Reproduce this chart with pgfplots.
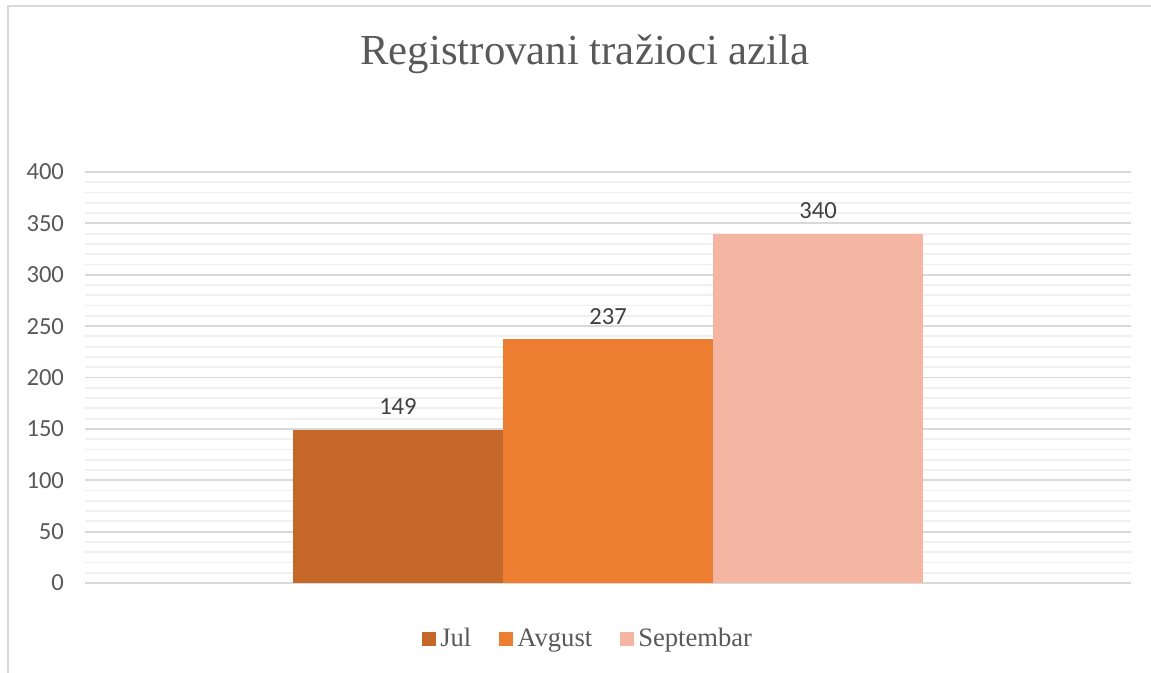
\documentclass[border=0pt]{standalone}
\usepackage{pgfplots}
\pgfplotsset{compat=1.18}
\usepackage{fontspec}
\setmainfont{Liberation Serif}
\newfontfamily\calib{Carlito}
\definecolor{cJul}{HTML}{C56728}
\definecolor{cAug}{HTML}{ED7D31}
\definecolor{cSep}{HTML}{F4B6A2}
\definecolor{majgrid}{HTML}{D9D9D9}
\definecolor{mingrid}{HTML}{F0F0F0}
\definecolor{txtgray}{HTML}{595959}
\definecolor{lblgray}{HTML}{404040}
\begin{document}
\begin{tikzpicture}
\path[use as bounding box] (0,0) rectangle (575.5pt,-336.5pt);
\draw[majgrid, line width=1pt] (4pt,-336.5pt) -- (4pt,-3pt) -- (575.5pt,-3pt);
\node[txtgray, font=\fontsize{21.4pt}{23pt}\selectfont] at (292.5pt,-27pt) {Registrovani tražioci azila};
\begin{axis}[
  at={(42.5pt,-291.5pt)}, anchor=south west,
  scale only axis, width=523pt, height=205.5pt,
  ybar, bar width=1, bar shift=0pt,
  xmin=-2.49, xmax=2.49,
  ymin=0, ymax=400,
  ytick={0,50,...,400},
  minor y tick num=4,
  xtick=\empty,
  axis line style={draw=none},
  major tick length=0pt, minor tick length=0pt,
  ymajorgrids, yminorgrids,
  major grid style={majgrid, line width=0.9pt},
  minor grid style={mingrid, line width=0.9pt},
  yticklabel style={font=\calib\fontsize{12.3pt}{13pt}\selectfont, txtgray, xshift=-7pt},
  /pgf/number format/assume math mode=true,
  nodes near coords,
  nodes near coords style={font=\calib\fontsize{12.3pt}{13pt}\selectfont, lblgray, yshift=4pt},
  legend columns=3,
  legend style={draw=none, fill=none, at={(rel axis cs:0.482,-0.136)}, anchor=center,
    font=\fontsize{13.3pt}{15pt}\selectfont, text=txtgray,
    /tikz/every even column/.append style={column sep=12pt}},
  legend image code/.code={\fill[#1] (0pt,-3.5pt) rectangle (7pt,3.5pt);},
]
\addplot[fill=cJul, draw=none] coordinates {(-1,149)};
\addplot[fill=cAug, draw=none] coordinates {(0,237)};
\addplot[fill=cSep, draw=none] coordinates {(1,340)};
\legend{Jul, Avgust, Septembar}
\end{axis}
\end{tikzpicture}
\end{document}
